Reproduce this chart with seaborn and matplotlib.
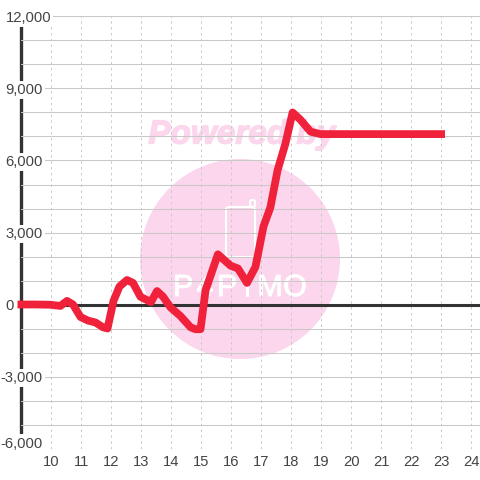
import matplotlib
matplotlib.use("Agg")
import matplotlib.pyplot as plt
import matplotlib.patheffects as pe
from matplotlib.patches import Circle, FancyBboxPatch
from matplotlib.transforms import ScaledTranslation
import pandas as pd
import seaborn as sns

hours = [8.9, 9.5, 10.0, 10.33, 10.55, 10.75, 11.0, 11.25, 11.5, 11.75, 11.9, 12.1, 12.3, 12.55,
         12.75, 13.0, 13.35, 13.55, 13.75, 14.0, 14.33, 14.67, 14.83, 15.0, 15.17, 15.58, 16.0,
         16.25, 16.55, 16.83, 17.1, 17.33, 17.57, 17.83, 18.07, 18.33, 18.67, 19.0, 20.0, 21.0,
         22.0, 23.15]
values = [0, 0, -10, -60, 150, 0, -520, -670, -750, -950, -1000, 150, 750, 1020,
          900, 320, 100, 560, 330, -120, -480, -950, -1030, -1030, 600, 2090, 1620,
          1500, 900, 1560, 3250, 4050, 5600, 6700, 8000, 7700, 7200, 7100, 7100, 7100,
          7100, 7100]
x_ticks = list(range(10, 25))
y_ticks = list(range(-6000, 12001, 1000))
y_labelled = [-6000, -3000, 0, 3000, 6000, 9000, 12000]

GRID = "#c9c9c9"
DARK = "#333333"
PINK = "#fbd6ec"

sns.set_theme(style="white")
plt.rcParams["font.family"] = ["Liberation Sans", "DejaVu Sans"]

df = pd.DataFrame({"hour": hours, "value": values})

fig = plt.figure(figsize=(4.8, 4.8), dpi=100)
ax = fig.add_axes([20.5 / 480, 31.5 / 480, 459.5 / 480, 432 / 480])
ax.patch.set_visible(False)


def px(x, y):
    return x / 480, 1 - y / 480


# watermark behind the axes
fig.add_artist(Circle(px(240, 259), 100 / 480, transform=fig.transFigure, color=PINK, lw=0, zorder=-5))
fig.text(*px(242, 135), "Powered by", color=PINK, fontsize=24, fontweight="bold", fontstyle="italic",
         ha="center", va="center", zorder=-4,
         path_effects=[pe.withStroke(linewidth=1, foreground=PINK)])
fig.add_artist(FancyBboxPatch(px(226, 257), 29 / 480, 50 / 480, boxstyle="round,pad=0,rounding_size=0.006",
                              transform=fig.transFigure, fc="none", ec="white", lw=1.5, zorder=-4))
fig.add_artist(FancyBboxPatch(px(250, 207), 5 / 480, 7 / 480, boxstyle="round,pad=0,rounding_size=0.004",
                              transform=fig.transFigure, fc=PINK, ec="white", lw=1.5, zorder=-4))
for letter, lx in zip("P4PIMO", [183, 205, 227, 247, 270, 295]):
    fig.text(*px(lx, 288), letter, color="white", fontsize=22, ha="center", va="center", zorder=-4,
             path_effects=[pe.withStroke(linewidth=0.7, foreground="white")])

sns.lineplot(data=df, x="hour", y="value", ax=ax, color="#f0213a", linewidth=5.6, sort=False,
             errorbar=None, solid_capstyle="butt", solid_joinstyle="round", zorder=5, clip_on=False)

ax.set_xlim(9, 9 + 459.5 / 30)
ax.set_ylim(-6000, 12000)
ax.set_xticks(x_ticks)
ax.set_yticks(y_ticks)
ax.set_yticklabels([f"{v:,}" if v in y_labelled else "" for v in y_ticks])
ax.set_xlabel("")
ax.set_ylabel("")

ax.grid(axis="y", color=GRID, lw=0.75, ls="-")
ax.grid(axis="x", color=GRID, lw=0.7, ls=(0, (2.5, 3.5)))
ax.axhline(0, color=DARK, lw=2.2, zorder=4.5)

for side in ["top", "right", "bottom"]:
    ax.spines[side].set_visible(False)
ax.spines["left"].set_color(DARK)
ax.spines["left"].set_linewidth(2.4)
ax.spines["left"].set_zorder(2.5)

ax.tick_params(axis="x", length=0, pad=5, labelsize=10.6, labelcolor="#444444")
ax.tick_params(axis="y", length=0, pad=10.8, labelsize=10.6, labelcolor="#444444")

# y labels sit on white boxes that cut the axis line
ax.xaxis.set_zorder(1)
ax.yaxis.set_zorder(4)

for label in ax.get_xticklabels():
    label.set_transform(label.get_transform() + ScaledTranslation(1 / 100, 0, fig.dpi_scale_trans))

for v, label in zip(y_ticks, ax.get_yticklabels()):
    label.set_ha("left")
    if v not in y_labelled:
        continue
    label.set_bbox(dict(facecolor="white", edgecolor="none", pad=1.5))
    dx = -5 if v < 0 else 0
    dy = 6.5 if v == -6000 else 0
    label.set_transform(label.get_transform() + ScaledTranslation(dx / 100, dy / 100, fig.dpi_scale_trans))

fig.savefig("out.png", dpi=100, facecolor="white")
